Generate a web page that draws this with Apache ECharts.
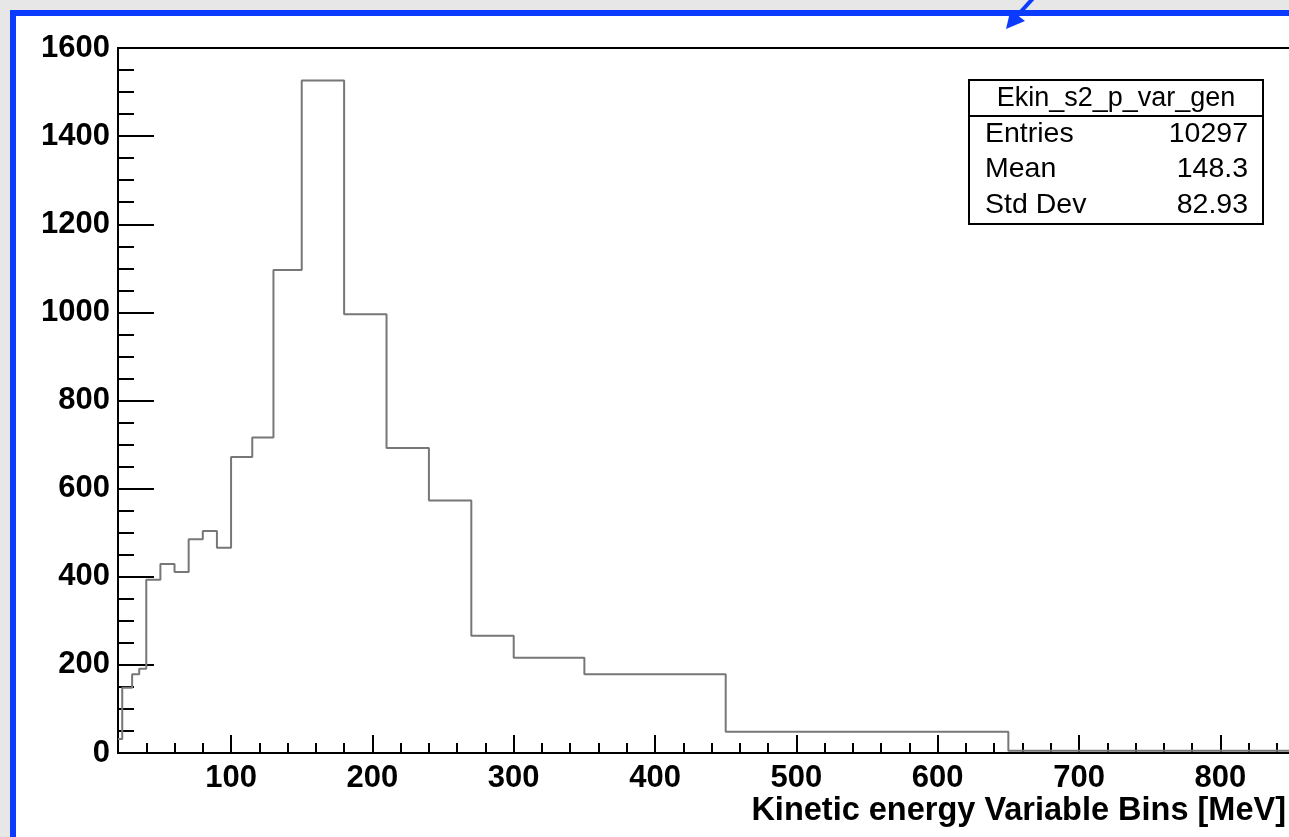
<!DOCTYPE html>
<html>
<head>
<meta charset="utf-8">
<script src="https://cdn.jsdelivr.net/npm/echarts@6/dist/echarts.min.js"></script>
<style>
  html, body { margin: 0; padding: 0; background: #e7e7e7; overflow: hidden; }
  #panel {
    position: absolute; left: 10px; top: 10px; width: 1320px; height: 900px;
    background: #ffffff; border: 6px solid #0b3bff; box-sizing: border-box;
  }
  #chart { position: absolute; left: 0; top: 0; width: 1289px; height: 837px; }
</style>
</head>
<body>
<div id="panel"></div>
<div id="chart"></div>
<script>
// Variable-width bin edges (MeV) and counts per bin
const binEdges = [20, 23, 30, 35, 40, 50, 60, 70, 80, 90, 100, 115, 130, 150, 180, 210, 240, 270, 300, 350, 450, 650, 850];
const binCounts = [32, 148, 179, 191, 393, 429, 411, 485, 504, 466, 672, 716, 1096, 1526, 996, 692, 573, 266, 216, 179, 48, 5];

// Axis ticks
const xMajorTicks = [100, 200, 300, 400, 500, 600, 700, 800];
const xMinorStep = 20;
const xRange = [20, 850];
const yRange = [0, 1600];
const yStep = 200;

// Statistics box
const statsTitle = 'Ekin_s2_p_var_gen';
const statNames = ['Entries', 'Mean', 'Std Dev'];
const statValues = ['10297', '148.3', '82.93'];

const xTitle = 'Kinetic energy Variable Bins [MeV]';

const FONT = '"Liberation Sans", Arial, Helvetica, sans-serif';

// Histogram outline as a stepped line through the bin edges
const outline = binCounts.map((c, i) => [binEdges[i], c]);
outline.push([binEdges[binEdges.length - 1], binCounts[binCounts.length - 1]]);

const xMinorTicks = [];
for (let v = xRange[0] + xMinorStep; v < xRange[1]; v += xMinorStep) {
  if (v % 100 !== 0) xMinorTicks.push(v);
}

const chart = echarts.init(document.getElementById('chart'), null, { renderer: 'canvas' });

// Stats box geometry
const box = { x: 969, y: 80, w: 294, h: 144, head: 36, row: 35.5 };
const statGraphics = [
  { type: 'rect', shape: { x: box.x, y: box.y, width: box.w, height: box.h },
    style: { fill: '#fff', stroke: '#000', lineWidth: 2 }, z: 10 },
  { type: 'line', shape: { x1: box.x, y1: box.y + box.head, x2: box.x + box.w, y2: box.y + box.head },
    style: { stroke: '#000', lineWidth: 2 }, z: 11 },
  { type: 'text', x: box.x + box.w / 2, y: box.y + box.head / 2 + 1, z: 11,
    style: { text: statsTitle, font: '27px ' + FONT, fill: '#000', align: 'center', verticalAlign: 'middle' } }
];
statNames.forEach((name, i) => {
  const cy = box.y + box.head + 18 + i * box.row;
  statGraphics.push({ type: 'text', x: box.x + 16, y: cy, z: 11,
    style: { text: name, font: '28.5px ' + FONT, fill: '#000', align: 'left', verticalAlign: 'middle' } });
  statGraphics.push({ type: 'text', x: box.x + box.w - 15, y: cy, z: 11,
    style: { text: statValues[i], font: '28.5px ' + FONT, fill: '#000', align: 'right', verticalAlign: 'middle' } });
});

// Pointer arrow in the top margin
const arrow = [
  { type: 'line', shape: { x1: 1037, y1: -6, x2: 1016, y2: 17 },
    style: { stroke: '#0b3bff', lineWidth: 4 }, z: 20 },
  { type: 'polygon', shape: { points: [[1006, 29], [1010.5, 10], [1025, 21]] },
    style: { fill: '#0b3bff' }, z: 20 }
];

const axisLineStyle = { color: '#000', width: 2 };
const plain = (v) => String(v);

chart.setOption({
  animation: false,
  backgroundColor: 'transparent',
  grid: {
    left: 118, top: 48, right: -2, bottom: 84,
    show: true, borderColor: '#000', borderWidth: 2, backgroundColor: 'transparent',
    containLabel: false, outerBoundsMode: 'none'
  },
  xAxis: [
    {
      type: 'value', min: xRange[0], max: xRange[1],
      axisLine: { show: true, onZero: false, lineStyle: axisLineStyle },
      axisTick: { show: true, inside: true, length: 18, lineStyle: axisLineStyle, customValues: xMajorTicks },
      axisLabel: { show: true, customValues: xMajorTicks, formatter: plain, margin: 10, color: '#000',
        fontFamily: FONT, fontWeight: 'bold', fontSize: 31 },
      splitLine: { show: false }
    },
    {
      type: 'value', min: xRange[0], max: xRange[1], position: 'bottom',
      axisLine: { show: false },
      axisTick: { show: true, inside: true, length: 10, lineStyle: axisLineStyle, customValues: xMinorTicks },
      axisLabel: { show: false },
      splitLine: { show: false }
    }
  ],
  yAxis: {
    type: 'value', min: yRange[0], max: yRange[1], interval: yStep,
    axisLine: { show: true, lineStyle: axisLineStyle },
    axisTick: { show: true, inside: true, length: 36, lineStyle: axisLineStyle },
    minorTick: { show: true, splitNumber: 4, length: 16, lineStyle: axisLineStyle },
    axisLabel: { margin: 8, formatter: plain, color: '#000', fontFamily: FONT, fontWeight: 'bold', fontSize: 31 },
    splitLine: { show: false }, minorSplitLine: { show: false }
  },
  series: [{
    type: 'line', xAxisIndex: 0, yAxisIndex: 0,
    step: 'end', data: outline, symbol: 'none',
    lineStyle: { color: '#777777', width: 2 }, z: 5
  }],
  graphic: [
    { type: 'text', x: 1286, y: 811, z: 11,
      style: { text: xTitle, font: 'bold 32.5px ' + FONT, fill: '#000', align: 'right', verticalAlign: 'middle' } },
    ...statGraphics,
    ...arrow
  ]
});
</script>
</body>
</html>
